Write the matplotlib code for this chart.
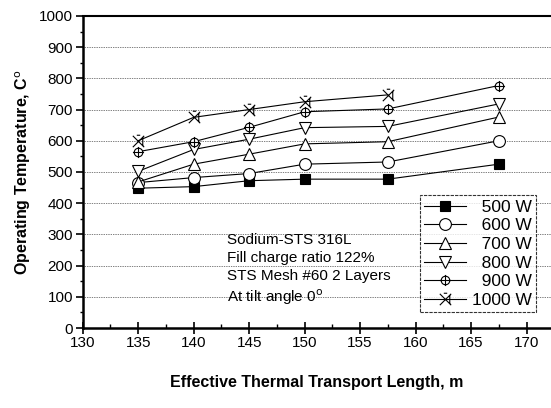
import numpy as np
import matplotlib
matplotlib.use("Agg")
import matplotlib.pyplot as plt
from matplotlib.path import Path
from matplotlib.ticker import MultipleLocator

plt.rcParams['font.family'] = ['Liberation Sans', 'DejaVu Sans']

lengths = [135, 140, 145, 150, 157.5, 167.5]
series_labels = ["\u2007500 W", "\u2007600 W", "\u2007700 W", "\u2007800 W", "\u2007900 W", "1000 W"]
t500 = [448, 453, 472, 477, 477, 525]
t600 = [466, 482, 495, 525, 532, 600]
t700 = [468, 525, 557, 590, 597, 676]
t800 = [502, 572, 605, 642, 646, 718]
t900 = [565, 597, 643, 693, 702, 777]
t1000 = [600, 675, 700, 725, 747]

x_ticks = [130, 135, 140, 145, 150, 155, 160, 165, 170]
y_ticks = [0, 100, 200, 300, 400, 500, 600, 700, 800, 900, 1000]

# custom markers
circ = Path.unit_circle()
verts = list(circ.vertices) + [(-1.3, 0), (1.3, 0), (0, -1.3), (0, 1.3)]
codes = list(circ.codes) + [Path.MOVETO, Path.LINETO, Path.MOVETO, Path.LINETO]
circ_plus = Path(verts, codes)

xv = [(-1, -1), (1, 1), (-1, 1), (1, -1), (0.75, -0.8), (0.75, 0.8), (-0.3, 1.1), (0.3, 1.1)]
xc = [Path.MOVETO, Path.LINETO, Path.MOVETO, Path.LINETO,
      Path.MOVETO, Path.LINETO, Path.MOVETO, Path.LINETO]
xmark = Path(xv, xc)

fig = plt.figure(figsize=(5.51, 4.08), dpi=100)
ax = fig.add_axes([0.150, 0.196, 0.85, 0.765])

styles = [
    dict(marker='s', mfc='black', ms=7),
    dict(marker='o', mfc='white', ms=8.5),
    dict(marker='^', mfc='white', ms=9),
    dict(marker='v', mfc='white', ms=9),
    dict(marker=circ_plus, mfc='white', ms=8),
    dict(marker=xmark, mfc='none', ms=9),
]
data = [t500, t600, t700, t800, t900, t1000]
for lab, vals, st in zip(series_labels, data, styles):
    ax.plot(lengths[:len(vals)], vals, color='black', lw=0.8, mec='black', mew=0.8,
            label=lab, **st)

ax.set_xlim(130, 172.2)
ax.set_ylim(0, 1000)
ax.set_xticks(x_ticks)
ax.set_yticks(y_ticks)
ax.xaxis.set_minor_locator(MultipleLocator(2.5))
ax.yaxis.set_minor_locator(MultipleLocator(50))
ax.tick_params(axis='x', which='major', direction='inout', length=8, width=1.2, labelsize=11, pad=2)
ax.tick_params(axis='x', which='minor', direction='in', length=3, width=1)
ax.tick_params(axis='y', which='major', direction='out', length=5, width=1.2, labelsize=11, pad=2)
ax.tick_params(axis='y', which='minor', direction='out', length=2.5, width=1)

ax.spines['left'].set_linewidth(1.8)
ax.spines['bottom'].set_linewidth(1.8)
ax.spines['top'].set_linewidth(1.5)
ax.spines['right'].set_visible(False)

for yv in y_ticks[1:-1]:
    ax.axhline(yv, color='black', lw=0.5, ls=(0, (1, 1.5)), zorder=0)

ax.set_xlabel("Effective Thermal Transport Length, m", fontsize=11.5, fontweight='bold', labelpad=18)
ax.set_ylabel("Operating Temperature, C$^{\\mathrm{o}}$", fontsize=11.5, fontweight='bold', labelpad=4)

ax.text(143.0, 305, "Sodium-STS 316L\nFill charge ratio 122%\nSTS Mesh #60 2 Layers\nAt tilt angle 0$^{\\mathrm{o}}$",
        fontsize=11, va='top', ha='left', linespacing=1.35)

leg = ax.legend(loc='upper right', bbox_to_anchor=(0.968, 0.425),
                fontsize=12.5, frameon=True,
                fancybox=False, edgecolor='black', handlelength=2.4, handletextpad=0.35,
                borderpad=0.25, labelspacing=0.2, borderaxespad=0)
leg.get_frame().set_linewidth(0.8)
leg.get_frame().set_linestyle((0, (3, 1)))

fig.savefig("out.png", dpi=100)
